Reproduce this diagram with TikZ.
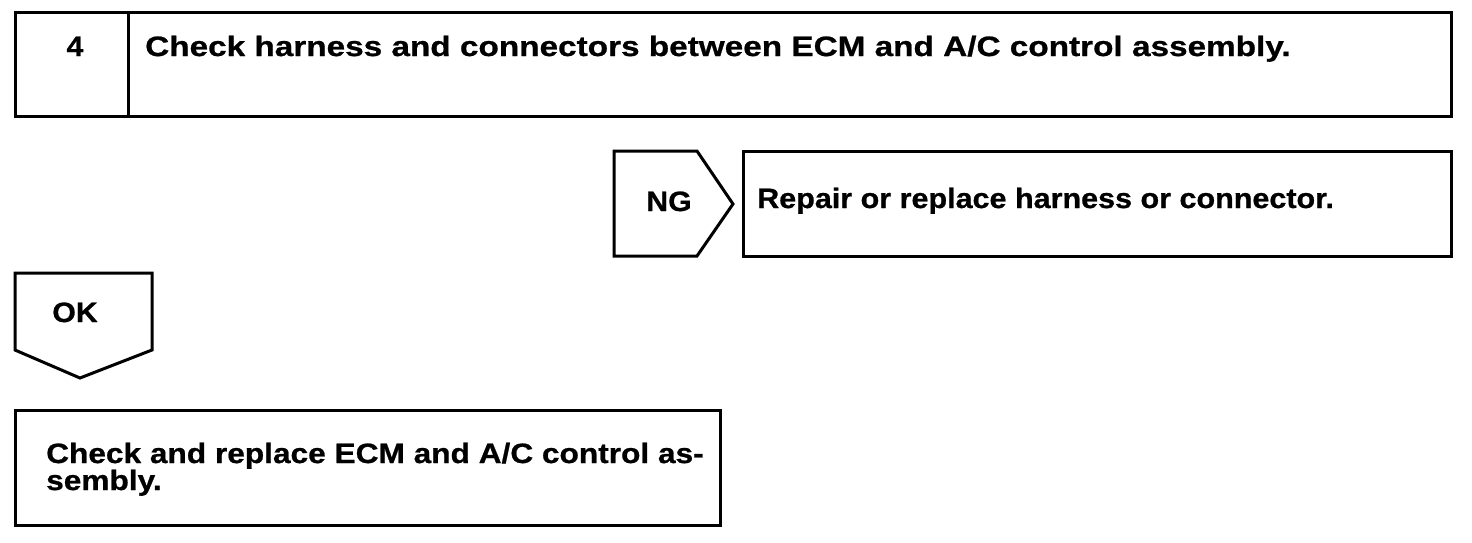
\documentclass[tikz,border=0pt]{standalone}
\usepackage{fontspec}
\setmainfont{Liberation Sans}
\newfontfamily\fTop{Liberation Sans}[FakeStretch=1.19,FakeBold=0.8]
\newfontfamily\fRep{Liberation Sans}[FakeStretch=1.09,FakeBold=0.8]
\newfontfamily\fBot{Liberation Sans}[FakeStretch=1.13,FakeBold=0.8]
\newfontfamily\fTag{Liberation Sans}[FakeStretch=1.08,FakeBold=0.8]
\tikzset{
  frame/.style={draw=black, line width=3pt, line join=miter},
  txt/.style={anchor=base west, inner sep=0pt, font=\fontsize{28}{27}\selectfont\bfseries},
}
\begin{document}
\begin{tikzpicture}[x=1pt,y=-1pt]
\useasboundingbox (0,0) rectangle (1472,542);
% top box
\draw[frame] (15,12) rectangle (1451,116);
\draw[frame] (128,12) -- (128,116);
\node[txt, anchor=base, font=\fontsize{28}{27}\fTag\bfseries] (num) at (75,56) {4};
\node[txt, font=\fontsize{28}{27}\fTop\bfseries] (title) at (145,56) {Check harness and connectors between ECM and A/C control assembly.};
% NG tag and box
\draw[frame] (614,151) -- (697,151) -- (733,204) -- (697,256) -- (614,256) -- cycle;
\node[txt, anchor=base, font=\fontsize{28}{27}\fTag\bfseries] (ng) at (669,211) {NG};
\draw[frame] (743,151) rectangle (1451,256);
\node[txt, font=\fontsize{28}{27}\fRep\bfseries] (rep) at (757,208) {Repair or replace harness or connector.};
% OK tag
\draw[frame] (15,273) -- (152,273) -- (152,350) -- (80,378) -- (15,350) -- cycle;
\node[txt, anchor=base, font=\fontsize{28}{27}\fTag\bfseries] (ok) at (75,322) {OK};
% bottom box
\draw[frame] (15,410) rectangle (720,525);
\node[txt, font=\fontsize{28}{27}\fBot\bfseries] (bot1) at (46,463) {Check and replace ECM and A/C control as-};
\node[txt, font=\fontsize{28}{27}\fBot\bfseries] (bot2) at (46,490) {sembly.};
\end{tikzpicture}
\end{document}
